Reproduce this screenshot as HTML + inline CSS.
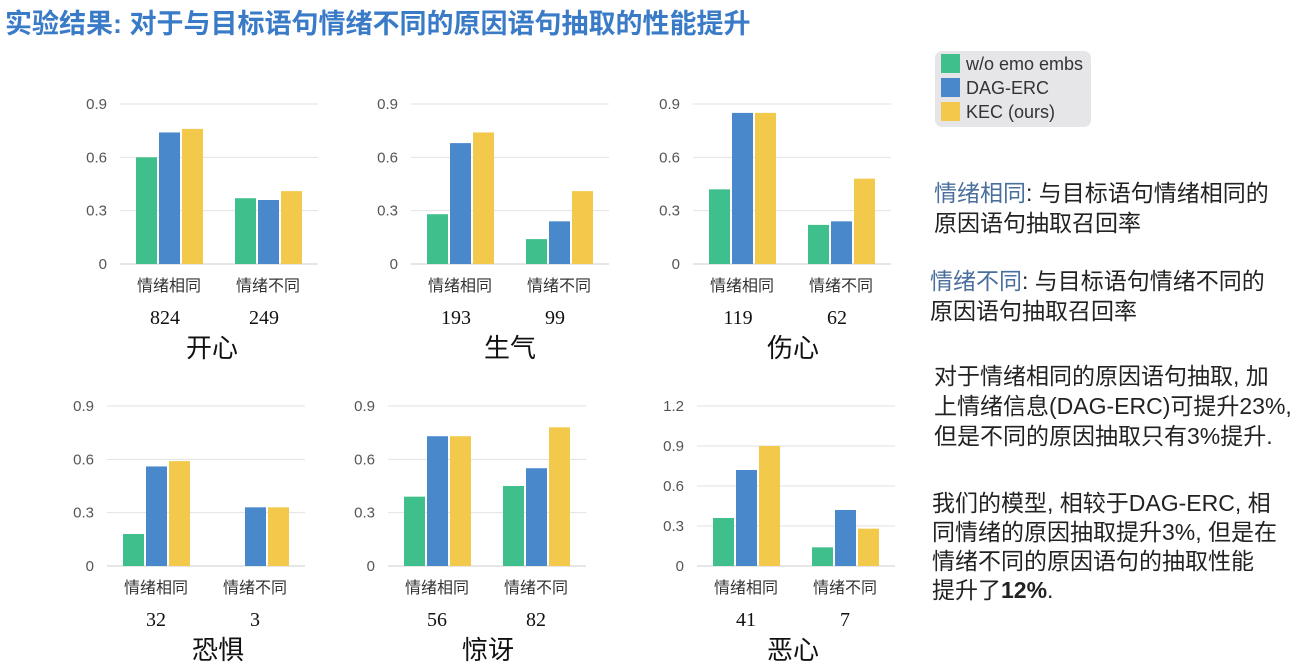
<!DOCTYPE html>
<html><head><meta charset="utf-8">
<style>
body{margin:0;width:1315px;height:670px;background:#fff;overflow:hidden;position:relative;font-family:"Liberation Sans","Noto Sans CJK SC",sans-serif;}
#title{position:absolute;left:5px;top:2px;font-size:27px;font-weight:bold;color:#3a7bc8;white-space:nowrap;}
#legend{position:absolute;left:935px;top:51px;width:156px;height:76px;background:#e6e6e8;border-radius:7px;}
.li{position:absolute;left:6px;font-size:18px;color:#333;white-space:nowrap;}
.sw{display:inline-block;width:19px;height:19px;vertical-align:-3px;margin-right:6px;}
.note{position:absolute;left:932px;font-size:23px;line-height:30px;color:#222;width:390px;white-space:nowrap;}
.hl{color:#4a6f9c;}
svg{position:absolute;left:0;top:0;}
</style></head><body>
<div id="title">实验结果: 对于与目标语句情绪不同的原因语句抽取的性能提升</div>
<div id="legend">
 <div class="li" style="top:3px"><span class="sw" style="background:#3fbf8c"></span>w/o emo embs</div>
 <div class="li" style="top:27px"><span class="sw" style="background:#4a88cc"></span>DAG-ERC</div>
 <div class="li" style="top:51px"><span class="sw" style="background:#f2c94a"></span>KEC (ours)</div>
</div>
<div class="note" style="top:178px;left:934px"><span class="hl">情绪相同</span>: 与目标语句情绪相同的<br>原因语句抽取召回率</div>
<div class="note" style="top:266px;left:930px"><span class="hl">情绪不同</span>: 与目标语句情绪不同的<br>原因语句抽取召回率</div>
<div class="note" style="top:361px;left:934px;line-height:30px">对于情绪相同的原因语句抽取, 加<br>上情绪信息(DAG-ERC)可提升23%,<br>但是不同的原因抽取只有3%提升.</div>
<div class="note" style="top:489px;left:932px;line-height:29px">我们的模型, 相较于DAG-ERC, 相<br>同情绪的原因抽取提升3%, 但是在<br>情绪不同的原因语句的抽取性能<br>提升了<b>12%</b>.</div>
<svg id="chart" width="1315" height="670"></svg>
<script>
const categories=["情绪相同","情绪不同"];
const emotions=["开心","生气","伤心","恐惧","惊讶","恶心"];
const counts=[[824,249],[193,99],[119,62],[32,3],[56,82],[41,7]];
const woEmo=[[0.60,0.37],[0.28,0.14],[0.42,0.22],[0.18,0],[0.39,0.45],[0.36,0.14]];
const dagErc=[[0.74,0.36],[0.68,0.24],[0.85,0.24],[0.56,0.33],[0.73,0.55],[0.72,0.42]];
const kec=[[0.76,0.41],[0.74,0.41],[0.85,0.48],[0.59,0.33],[0.73,0.78],[0.90,0.28]];
const yTicks=[[0,0.3,0.6,0.9],[0,0.3,0.6,0.9],[0,0.3,0.6,0.9],[0,0.3,0.6,0.9],[0,0.3,0.6,0.9],[0,0.3,0.6,0.9,1.2]];
const panels=[{x:120,y0:264,tx:212},{x:411,y0:264,tx:510},{x:693,y0:264,tx:793},{x:107,y0:566,tx:218},{x:388,y0:566,tx:488},{x:697,y0:566,tx:793}];
const colors=["#3fbf8c","#4a88cc","#f2c94a"];
const series=[woEmo,dagErc,kec];
const names=["wo-emo","dag-erc","kec"];
const NS="http://www.w3.org/2000/svg";
const svg=document.getElementById('chart');
function mk(tag,attrs,text){const e=document.createElementNS(NS,tag);for(const k in attrs)e.setAttribute(k,attrs[k]);if(text!==undefined)e.textContent=text;svg.appendChild(e);return e;}
panels.forEach((p,i)=>{
  const H=160,W=198;
  const top=yTicks[i][yTicks[i].length-1];
  const y=v=>p.y0-v/top*H;
  yTicks[i].forEach(t=>{
    const l=mk('line',{x1:p.x,x2:p.x+W,y1:y(t),y2:y(t),stroke:t===0?'#ccc':'#e2e2e2','stroke-width':1});
    
    
    const tx=mk('text',{x:p.x-13,y:y(t)+5,'text-anchor':'end','font-size':15,fill:'#555'},t===0?'0':t.toFixed(1));
    
    
  });
  categories.forEach((c,g)=>{
    const gx=p.x+16+g*99;
    series.forEach((s,k)=>{
      const v=s[i][g];
      const r=mk('rect',{x:gx+k*23,y:y(v),width:21,height:p.y0-y(v),fill:colors[k]});
      
      
    });
    const cx=gx+33;
    const cl=mk('text',{x:cx,y:p.y0+27,'text-anchor':'middle','font-size':16,fill:'#333'},c);
    
    
    const cn=mk('text',{x:cx-(i<3?4:0),y:p.y0+60,'text-anchor':'middle','font-size':20,fill:'#111','font-family':'Liberation Serif,serif'},counts[i][g]);
    
    
  });
  const tt=mk('text',{x:p.tx,y:p.y0+93,'text-anchor':'middle','font-size':26,fill:'#111'},emotions[i]);
  
  
});
</script>
</body></html>
